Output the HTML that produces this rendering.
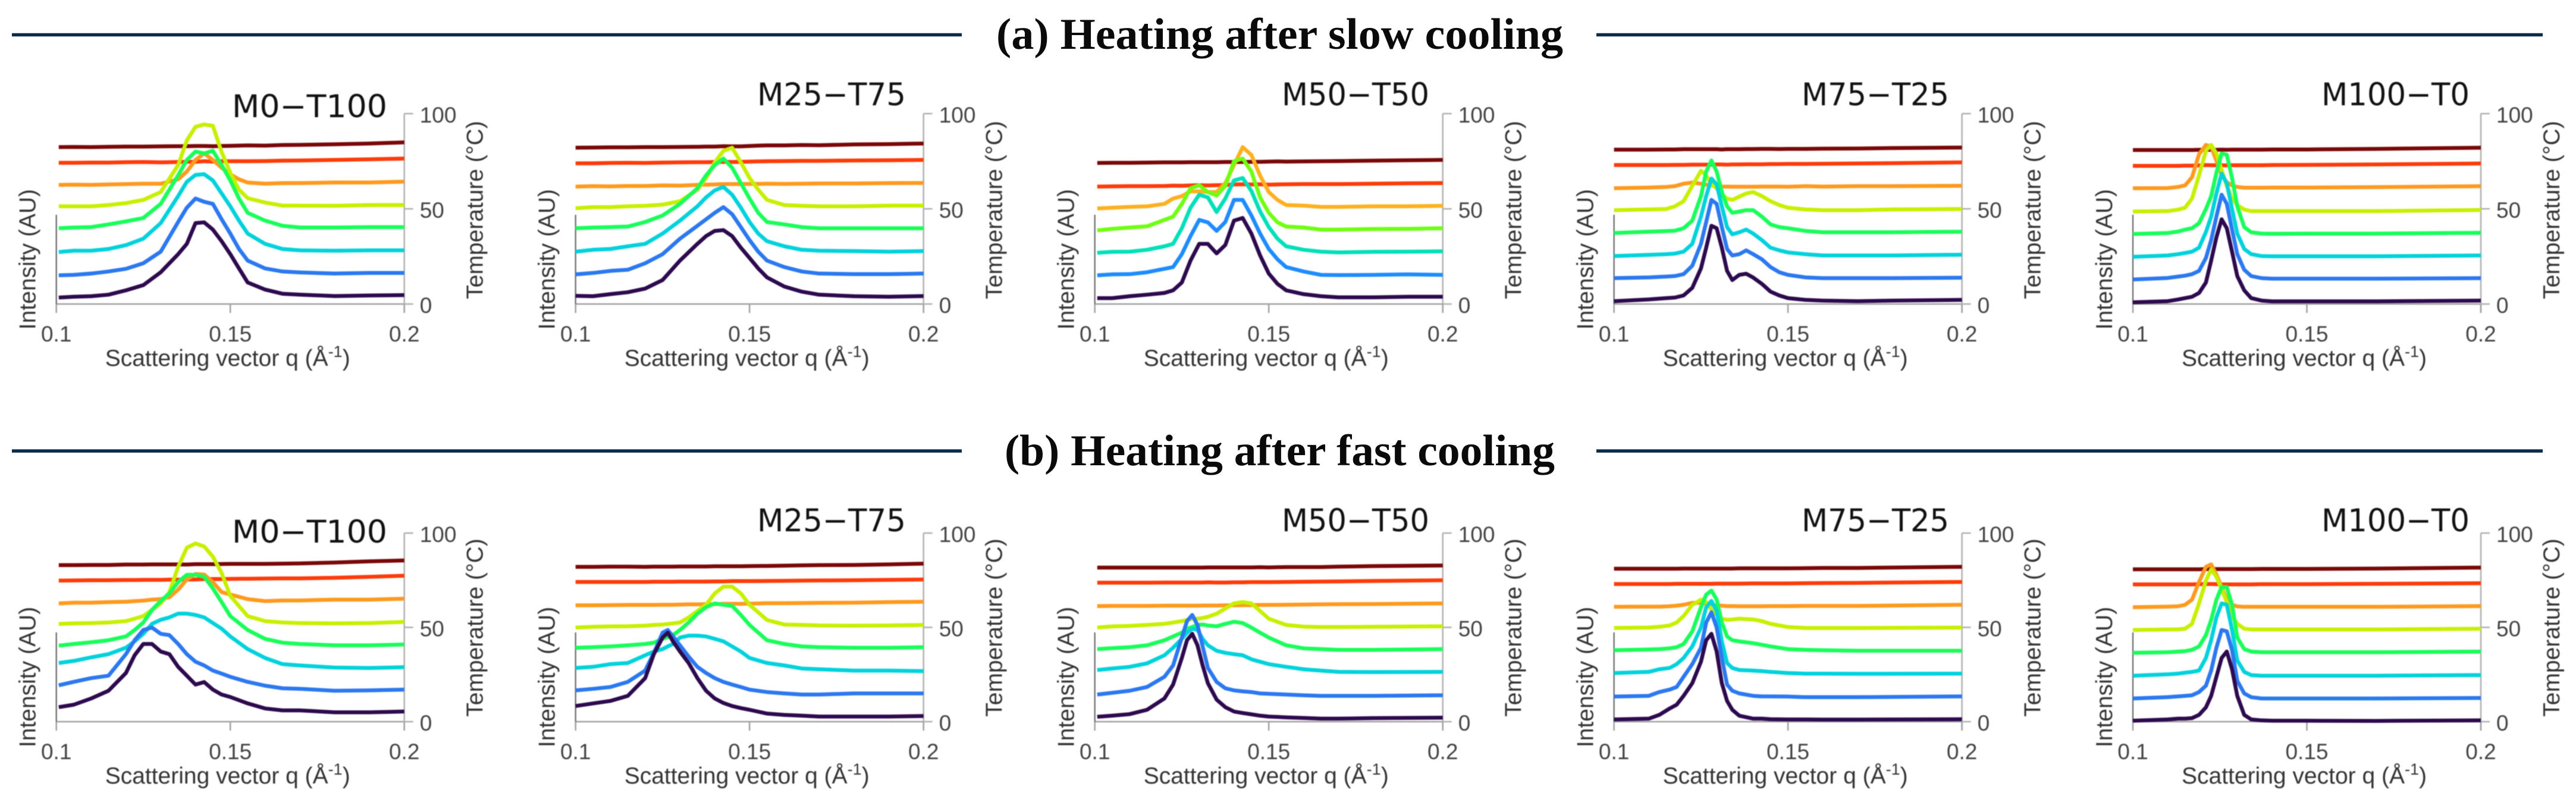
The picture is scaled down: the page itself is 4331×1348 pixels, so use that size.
<!DOCTYPE html>
<html lang="en">
<head>
<meta charset="utf-8">
<title>Heating after slow and fast cooling</title>
<style>
html,body{margin:0;padding:0;background:#fff;width:4331px;height:1348px;overflow:hidden}
svg{display:block}
.tick{font-family:"Liberation Sans",sans-serif;font-size:37px;fill:#424242}
.axt{font-family:"Liberation Sans",sans-serif;font-size:39px;fill:#333}
.ttl{font-family:"DejaVu Sans",sans-serif;font-size:53px;fill:#111}
.hdr{font-family:"Liberation Serif",serif;font-weight:bold;font-size:74px;fill:#0a0a0a}
</style>
</head>
<body>
<svg id="figure" xmlns="http://www.w3.org/2000/svg" width="4331" height="1348" viewBox="0 0 4331 1348">
<rect x="0" y="0" width="4331" height="1348" fill="#fff"/>
<g id="headers">
<line x1="20" x2="1617" y1="58.5" y2="58.5" stroke="#0c2b4a" stroke-width="5.5"/>
<text class="hdr" x="1675" y="82" textLength="953" lengthAdjust="spacingAndGlyphs">(a) Heating after slow cooling</text>
<line x1="2684" x2="4275" y1="58.5" y2="58.5" stroke="#0c2b4a" stroke-width="5.5"/>
<line x1="20" x2="1617" y1="758" y2="758" stroke="#0c2b4a" stroke-width="5.5"/>
<text class="hdr" x="1689" y="782" textLength="925" lengthAdjust="spacingAndGlyphs">(b) Heating after fast cooling</text>
<line x1="2684" x2="4275" y1="758" y2="758" stroke="#0c2b4a" stroke-width="5.5"/>
</g>
<g id="charts" style="filter:blur(0.9px)"></g>
</svg>
<script>
const xTicks=[0.1,0.15,0.2];
const xTickLabels=["0.1","0.15","0.2"];
const yTicks=[0,50,100];
const yTickLabels=["0","50","100"];

// (a) M0-T100
const a1_q=[.1007,.105,.11,.115,.12,.125,.13,.135,.1375,.14,.1425,.145,.1475,.15,.1525,.155,.16,.165,.17,.18,.19,.2];
const a1_s1=[3.4,3.8,4.1,4.9,7.2,9.9,16.7,26.2,31.6,42.5,42.9,39.1,33,26.2,18.7,11.3,7.6,5.4,4.9,4.2,4.5,4.7];
const a1_s2=[15.1,15.3,16,17.1,18.5,21.4,27.5,43.1,50.6,55.4,53.7,52.6,44.5,37,28.9,22.8,18.7,17.1,16.6,16,16.3,16.3];
const a1_s3=[27.3,28,28,28.9,30.9,34.3,42.5,56.7,64.2,67.8,68.2,64.9,58.1,51.3,43.8,37,31.6,28.9,28.2,28,28.2,28.2];
const a1_s4=[39.8,40.2,40.4,41.8,43.4,45.2,52.6,67.6,75.7,80.1,79.1,80.5,73,64.9,55.4,47.9,43.8,41.1,40.2,40.2,40.4,40.4];
const a1_s5=[51.3,51.3,51.3,52,53,54.7,58.8,73,85.9,93.1,94.3,93.6,79.8,68.9,60.1,55.6,53.3,51.7,51.7,51.6,52,52];
const a1_s6=[62.6,62.7,62.6,62.8,63,63.2,63.2,65.5,69.6,75.7,79.1,75.7,71.6,68.2,65.5,63.8,63.2,63.5,63.5,63.8,63.8,64.3];
const a1_s7=[74.2,74.2,74.3,74.3,74.5,74.6,74.4,74.6,74.7,74.7,75,74.8,75,75,75,75,75.1,75.3,75.4,75.7,76,76.4];
const a1_s8=[82.4,82.5,82.4,82.6,82.7,82.7,82.8,82.9,82.9,83,83,82.9,83,83.1,83.2,83.3,83.2,83.5,83.6,83.9,84.3,84.9];

// (a) M25-T75
const a2_q=[.1,.105,.11,.115,.12,.125,.13,.135,.1375,.14,.1425,.145,.1475,.15,.1525,.155,.16,.165,.17,.18,.19,.2];
const a2_s1=[4.3,4.1,5.2,6.2,8.1,12.6,22.8,31.6,35.7,38.4,38.8,35.7,29.6,24.2,18.7,14,9.2,6.5,4.9,4.1,3.8,4.2];
const a2_s2=[15.6,16.3,17.4,18,21.4,26.2,34.3,41.1,44.5,47.9,50.9,47.2,40.4,33.6,27.5,22.8,19.4,17.1,16,15.7,15.7,16];
const a2_s3=[27.5,28.5,28.9,30.3,31.6,37,43.8,51.3,56,59.7,61.5,57.4,50.6,43.1,37,33,30.3,28.5,28,27.8,27.5,27.8];
const a2_s4=[39.8,40.2,40.4,40.7,43.1,46.5,52.6,60.8,67.6,73,76.4,71.6,63.5,55.4,47.9,43.1,41.8,40.4,39.8,39.8,39.8,39.8];
const a2_s5=[50.3,50.9,50.9,51.3,51.6,52.2,54,60.1,66.2,74.4,80.5,82.1,74.4,66.2,60.1,54.7,52,51.6,51.3,51.3,51.7,51.7];
const a2_s6=[61.7,61.9,61.8,62,62,62.3,62.2,62.6,62.7,62.8,63,63,63,63.1,63.1,63.2,63.1,63.2,63.3,63.3,63.5,63.6];
const a2_s7=[73.9,73.9,74.1,74.2,74.1,74.3,74.4,74.5,74.5,74.6,74.7,74.6,74.7,74.8,74.9,75,75.1,75.2,75.2,75.4,75.5,75.7];
const a2_s8=[82.1,82.2,82.3,82.3,82.4,82.4,82.5,82.6,82.7,82.7,82.9,82.8,82.8,83,83.2,83.3,83.3,83.5,83.4,83.8,84,84.3];

// (a) M50-T50
const a3_q=[.1007,.105,.11,.115,.12,.1225,.125,.1275,.13,.1325,.135,.1375,.14,.1425,.145,.1475,.15,.1525,.155,.16,.165,.17,.18,.19,.2];
const a3_s1=[3.1,3.1,4.1,4.9,5.8,7.2,11.3,22.8,31.6,31.6,26.6,31,43.8,45.2,37,25.5,16,10.6,7.2,5.2,4.1,3.5,3.5,3.8,3.8];
const a3_s2=[15.1,15.6,15.7,16.7,18.5,19.4,26.2,35.7,44.2,42.9,38.4,43.1,54.7,54.7,46.5,37,28.9,23.5,19.4,17.1,15.3,15.2,15.3,15.6,15.3];
const a3_s3=[26.9,27.4,27.5,28.5,30.3,31.6,39.8,50.6,57.4,56,48.3,55.4,64.9,66.2,59.4,48.6,40.4,34.3,30.3,28.5,27.5,27.1,27.4,27.5,27.7];
const a3_s4=[38.7,39.5,40.2,40.8,44.2,45.9,52.6,60.8,62.4,58.8,57,62.1,75,76.4,69.6,56,47.9,42.9,40.7,40.2,39.1,39.1,39.4,39.5,39.8];
const a3_s5=[50.2,50.6,51,51.3,52.6,55.4,56.7,59.2,59.2,58.8,58.8,63.5,73,82.4,78.3,67.4,58.8,54.7,52,51.7,51,51,51.3,51.3,51.6];
const a3_s6=[61.7,61.8,61.9,61.9,62,62.2,62.1,62.3,62.4,62.3,62.4,62.5,62.8,62.9,62.8,62.9,62.7,62.8,62.9,63,63,63,63.2,63.4,63.5];
const a3_s7=[74.1,74.2,74.2,74.3,74.4,74.4,74.4,74.5,74.5,74.5,74.5,74.6,74.6,74.6,74.7,74.7,74.8,74.9,74.8,74.9,75,75.1,75.3,75.5,75.7];

// (a) M75-T25
const a4_q=[.1,.11,.115,.1175,.12,.1225,.125,.1265,.128,.1295,.131,.1325,.134,.136,.138,.14,.1425,.145,.1475,.15,.155,.16,.17,.18,.2];
const a4_s1=[1.5,2.4,3.1,3.4,4.5,8.5,18.7,29.6,41.1,39.8,29.6,17.4,12.6,15.3,15.9,13.9,10.6,6.5,4.5,3.1,2.2,1.8,1.5,1.8,2.2];
const a4_s2=[13.6,14,14.4,14.7,15.7,20.1,31.6,43.1,54.7,52.6,40.4,28.9,25.5,26.2,28.2,26.2,23.5,19.4,16.7,15.3,14,13.6,13.6,13.6,13.8];
const a4_s3=[25.2,25.8,26.2,26.5,27.5,31.6,45.9,56.7,65.9,62.8,51.3,40.4,36.6,37.7,39.1,37,33.6,29.6,28.2,27.1,26.2,25.5,25.5,25.5,25.9];
const a4_s4=[37.3,38,38.3,38.5,39.8,43.8,56.7,69.6,75.4,69.6,58.8,51.3,47.9,48.6,49.3,49.3,45.9,41.8,40.4,39.8,38.4,37.7,37.7,37.7,38];
const a4_s5=[49.3,49.7,49.9,51.3,54,62.1,70,67.6,62.8,60.8,57.4,55.4,54.7,56.4,58.1,58.8,56.7,54,52,50.6,49.7,49.3,49.3,49.7,49.9];
const a4_s6=[60.8,61.2,61.5,61.9,63.2,63.8,63.2,62.7,62.4,61.9,61.7,61.7,61.6,61.6,61.6,61.6,61.7,61.7,61.7,61.6,61.9,61.7,61.9,61.9,62.1];
const a4_s7=[73,73,73,73.1,73.1,73.2,73.2,73.2,73.2,73.3,73.3,73.2,73.3,73.3,73.4,73.4,73.4,73.5,73.5,73.6,73.6,73.7,73.8,74,74.4];
const a4_s8=[81.1,81.1,81.2,81.2,81.3,81.3,81.3,81.3,81.3,81.3,81.2,81.3,81.3,81.3,81.4,81.4,81.5,81.5,81.4,81.5,81.5,81.6,81.7,81.9,82.2];

// (a) M100-T0
const a5_q=[.1,.11,.113,.115,.117,.119,.121,.1225,.124,.1255,.127,.1285,.13,.132,.134,.137,.14,.15,.17,.2];
const a5_s1=[.9,1.5,2.4,3.1,3.8,5.8,11.3,22.8,35,44.5,39.8,27.5,14.7,7.2,3.1,1.8,1.4,1.4,1.4,1.8];
const a5_s2=[12.9,13.7,14.4,14.9,15.7,17.4,24.2,33.6,45.9,57.4,52.6,39.1,26.2,18,14.7,13.6,13.3,13.3,13.3,13.6];
const a5_s3=[24.8,25.5,26.2,26.8,27.5,29.6,37.8,45.9,58.1,68.5,63.3,49.9,37,28.9,26.2,25.2,25.1,25.1,25.1,25.5];
const a5_s4=[36.8,37.3,38.1,39.1,39.8,42.5,49.9,56.7,68.9,79.1,78.4,66.2,51.3,40.4,37.7,37,36.9,37,37,37.4];
const a5_s5=[48.6,48.8,49.6,50.6,55.4,67.6,80.5,83.6,79.1,70.3,62.1,55.4,52,49.6,48.8,48.8,48.8,48.8,48.8,49.4];
const a5_s6=[60.8,60.9,61.5,62.3,66.6,78.7,83.6,82.6,75.3,67.9,63.9,62.3,61.5,61.1,61.1,61.1,61.2,61.2,61.4,61.9];
const a5_s7=[72.6,72.6,72.6,72.7,72.7,72.8,73,72.9,72.9,72.9,72.8,72.9,72.9,72.9,72.9,72.9,73,73.1,73.3,73.8];
const a5_s8=[80.9,80.9,80.9,80.9,80.9,81,81,81,81,81.1,81,81.1,81.1,81.1,81.1,81.1,81.2,81.2,81.5,82.1];

// (b) M0-T100
const b1_q=[.1007,.105,.11,.115,.12,.1225,.125,.1275,.13,.1325,.135,.1375,.14,.1425,.145,.1475,.15,.155,.16,.165,.17,.18,.19,.2];
const b1_s1=[7.7,9,12.3,16.4,25.8,35.2,41.2,41.2,37.2,35.8,29.1,24.4,19.7,21,17,14.4,13.1,9.7,7,6,6,5,5,5.4];
const b1_s2=[19.3,21.1,23.1,24.4,35.8,43.2,48.6,49.9,46.6,45.9,41.2,35.8,31.8,29.8,27.1,25.5,23.8,21.1,19.1,17.7,17.4,16.4,16.6,17];
const b1_s3=[31.1,32.2,34.1,35.8,39.2,42.6,46.6,51.9,54,55.3,57.3,57.3,56.6,55.3,52.3,49.3,45.2,38.5,33.8,30.5,29.8,28.7,28.5,28.9];
const b1_s4=[40.3,41.2,42.1,43.2,45.2,48.6,52.6,59.3,64,68,74.1,77.9,77.9,76.8,70.7,63.4,56,48.6,43.9,41.9,41.2,40.5,40.5,40.9];
const b1_s5=[51.8,52.1,52.3,52.6,53.3,54.6,56,59.3,62.7,68.7,82.1,92.2,94.5,92.9,87.5,78.8,66.7,56,53.3,52.6,52.3,52.1,52.3,52.9];
const b1_s6=[62.7,63.1,63.1,63.4,63.6,63.9,64.2,64.7,65,66,70,75.4,78.3,78,74,68.7,67.4,65,63.9,64.3,64.3,64.7,64.7,65.2];
const b1_s7=[74.8,74.9,75,75,75.1,75.1,75.2,75.2,75.2,75.3,75.3,75.4,75.4,75.6,75.6,75.6,75.7,75.8,75.9,76,76,76.3,76.8,77.4];
const b1_s8=[83,83,83.1,83.1,83.3,83.3,83.3,83.4,83.4,83.4,83.4,83.3,83.5,83.5,83.5,83.6,83.7,83.7,83.7,83.8,83.9,84.4,85,85.5];

// (b) M25-T75
const b2_q=[.1,.105,.11,.115,.12,.1225,.125,.1265,.128,.13,.1325,.135,.1375,.14,.1425,.145,.1475,.15,.155,.16,.165,.17,.18,.19,.2];
const b2_s1=[8.3,9.7,11,13.7,23.1,35.8,44.6,47.2,42.6,37.2,31.1,23.1,16.4,12.3,9.9,8.3,7.2,6.3,4.3,3.6,3.2,2.7,2.7,2.7,3];
const b2_s2=[16.6,17.4,18.4,21.1,27.1,36.5,47.2,48.6,45.2,40.5,34.5,29.1,25.8,23.1,21.1,19.7,18.4,17,15.7,15,14.4,14.4,15,15,15];
const b2_s3=[28.5,29.1,30.5,31.1,35.2,37.2,38.5,39.9,41.2,44.6,45.6,45.6,45.2,43.9,42.6,39.9,37.2,33.8,31.1,29.8,28.2,27.8,27.1,27.1,26.8];
const b2_s4=[39.2,39.5,39.9,40.5,41.2,41.9,43.9,44.8,45.9,48.6,52.6,57.3,60.7,62.7,62,61.4,56.6,51.3,43.2,41.2,39.9,39.5,39.2,39.2,39.5];
const b2_s5=[49.9,50.3,50.5,50.6,50.9,51.3,51.5,51.8,52.1,52.6,55.3,58.7,62,68,71.6,71.6,68,62,53.9,51.5,51.3,51,50.9,51,51.3];
const b2_s6=[61.7,61.7,61.8,61.9,61.9,61.9,62,62,62,62.1,62.2,62.2,62.3,62.3,62.5,62.5,62.5,62.6,62.8,62.8,62.9,63,63.1,63.4,63.6];
const b2_s7=[74.1,74.1,74.1,74.1,74.1,74.2,74.2,74.2,74.2,74.3,74.3,74.3,74.3,74.4,74.4,74.5,74.5,74.5,74.6,74.7,74.8,74.9,75,75.2,75.4];
const b2_s8=[82.1,82.1,82.2,82.2,82.1,82.2,82.2,82.2,82.2,82.3,82.3,82.3,82.3,82.4,82.4,82.4,82.4,82.5,82.6,82.7,82.9,83,83.1,83.4,83.8];

// (b) M50-T50
const b3_q=[.1007,.105,.11,.115,.12,.1225,.125,.1265,.128,.1295,.131,.1325,.135,.1375,.14,.1425,.145,.1475,.15,.155,.16,.165,.17,.18,.2];
const b3_s1=[2.6,3.2,4,6.3,12.3,19.7,33.8,43.2,46.6,40.5,29.8,20.4,11.7,7.7,5.4,4.6,3.9,3.2,2.7,2.3,2,1.6,1.6,1.9,2.1];
const b3_s2=[14.4,15.3,16.4,18.4,23.8,29.8,44.6,53.3,56.6,51.3,39.9,28.5,21.1,17.7,16.6,16.1,15.7,15,14.8,14.4,14,13.7,13.7,13.7,14];
const b3_s3=[27.4,28.2,29.1,30.9,35.2,39.2,43.9,47.2,49.3,48.6,43.9,40.5,37.6,36.5,35.8,35.2,33.1,31.8,30.5,29.1,27.8,27.1,26.4,26.3,26.4];
const b3_s4=[38.5,39,39.5,40.5,43.2,45.2,47.2,49.3,50.2,51.3,51.5,51,50.6,51.9,53,52.3,49.9,47.2,44.6,40.5,38.9,38.5,38.1,38.1,38.5];
const b3_s5=[49.9,50.5,50.8,51.3,51.9,52.6,53.3,54,54.6,54.6,55,55.6,57.3,60,62.7,63.4,62.7,58.7,54.6,51.3,50.4,50.2,50.2,50.3,50.6];
const b3_s6=[61.3,61.4,61.4,61.4,61.5,61.5,61.5,61.5,61.5,61.5,61.6,61.6,61.6,61.7,61.7,61.8,61.8,61.9,61.9,62,62.1,62.2,62.3,62.4,62.7];
const b3_s7=[73.7,73.7,73.7,73.7,73.8,73.8,73.8,73.8,73.8,73.8,73.8,73.9,73.8,73.8,73.9,73.9,74,74,74,74.1,74.2,74.3,74.4,74.6,75];
const b3_s8=[81.7,81.7,81.7,81.7,81.7,81.7,81.7,81.7,81.7,81.7,81.7,81.8,81.8,81.8,81.8,81.8,81.8,81.9,81.8,82,82,82,82.2,82.5,82.8];

// (b) M75-T25
const b4_q=[.1,.11,.113,.116,.118,.12,.1225,.125,.1265,.128,.1295,.131,.1325,.134,.136,.14,.1425,.145,.15,.155,.16,.17,.2];
const b4_s1=[1.2,1.6,3.6,7,9,13.7,20.4,31.8,43.2,46.6,37.2,20.4,11,6.3,3.2,1.6,1.6,1.3,1.2,1.2,1.1,1.1,1.3];
const b4_s2=[13.3,13.7,15.7,17,18.4,23.8,30.5,39.2,52.6,58,49.9,33.8,19.7,16.4,15,13.7,13.4,13.4,13.3,13,13,13,13.4];
const b4_s3=[25.8,26.4,27.8,28.5,30.5,33.8,39.9,49.9,60.7,64,58.7,42.6,31.1,28.5,27.4,27.1,26.8,26.4,25.8,25.5,25.5,25.4,25.5];
const b4_s4=[37.9,38.3,38.5,38.9,39.5,41.2,47.9,60.7,67.4,69.5,64.8,52.6,45.2,43.2,42.6,41.6,40.8,39.9,38.5,38.1,37.9,37.6,37.6];
const b4_s5=[49.7,49.9,50.3,51,52.6,56,62,64.7,63.4,59.3,56.6,54.6,54,54.2,54.6,54.2,53.3,51.9,50.2,49.7,49.7,49.7,49.9];
const b4_s6=[60.9,61,61,61.2,61.5,62,63,63,62.5,62,61.7,61.5,61.3,61.3,61.2,61.2,61.2,61.3,61.3,61.4,61.4,61.4,62];
const b4_s7=[73,73,73,73,73.1,73.1,73.1,73.1,73.1,73.1,73.2,73.2,73.2,73.2,73.2,73.3,73.3,73.3,73.3,73.4,73.5,73.6,74.1];
const b4_s8=[81.1,81.1,81.1,81.1,81.1,81.2,81.2,81.2,81.2,81.2,81.2,81.2,81.2,81.2,81.3,81.3,81.3,81.3,81.3,81.4,81.5,81.5,82.1];

// (b) M100-T0
const b5_q=[.1,.11,.113,.115,.117,.119,.121,.1225,.124,.1255,.127,.1285,.13,.132,.134,.137,.14,.15,.17,.2];
const b5_s1=[.5,1.2,1.6,1.6,1.9,3.6,7.6,13.7,23.8,33.8,37.2,27.8,13.7,3.6,1.2,.7,.5,.5,.4,.7];
const b5_s2=[12.3,13,13.4,13.7,14,15.7,19.1,27.1,39.2,48.6,47.9,37.9,21.7,15,13,12.3,12.3,12.3,12.3,12.6];
const b5_s3=[24.4,25.1,25.5,26,26.4,27.1,33.8,43.2,55.3,62.7,62,48.6,32.5,26.4,24.7,24.4,24.4,24.4,24.4,24.7];
const b5_s4=[36.5,36.8,37.2,37.4,38.1,39.9,45.9,54,64.7,71.4,71.4,62,44.6,38.5,37.2,36.8,36.8,36.8,36.8,37.2];
const b5_s5=[48.6,48.9,49,49.3,51.9,62.7,74.8,80.8,76.8,70.1,63.4,56,51.9,49.3,48.9,48.9,48.9,48.9,48.9,49.3];
const b5_s6=[60.7,61,61.2,62,64.7,74.1,82.1,83.4,78,71.4,64.7,62,61.1,60.9,60.9,60.9,60.9,60.9,60.9,61.3];
const b5_s7=[72.8,72.8,72.8,72.8,72.8,72.9,73,73,72.9,72.8,72.8,72.8,72.8,72.8,72.8,72.9,72.9,72.9,73.1,73.4];
const b5_s8=[80.8,80.8,80.8,80.8,80.8,80.8,80.9,80.9,80.9,80.9,80.9,80.9,80.9,80.9,80.9,81,81,81,81.2,81.7];

const palette8=["#2d0a4e","#2b78f0","#00d2dc","#19ff5a","#c6f000","#ff9a1f","#ff3b0a","#7a0808"];
const palette7=["#2d0a4e","#1e8cff","#00e0b8","#6fff10","#ffb020","#ff3b0a","#7a0808"];

const SVGNS="http://www.w3.org/2000/svg";
const root=document.getElementById("charts");

function mk(tag,parent,attrs){
  const el=document.createElementNS(SVGNS,tag);
  for(const k in attrs){el.setAttribute(k,attrs[k]);}
  parent.appendChild(el);
  return el;
}

function drawPanel(p){
  const xScale=q=>p.x0+(q-0.1)/(0.2-0.1)*585;
  const yScale=v=>p.y0-v/100*p.h;
  const x1=xScale(0.2);
  const g=mk("g",root,{});
  
  

  const bl=mk("line",g,{x1:p.x0,x2:x1,y1:p.y0,y2:p.y0,stroke:"#a0a0a0","stroke-width":2.5});
  
  
  const la=mk("line",g,{x1:p.x0,x2:p.x0,y1:p.y0,y2:p.y0-150,stroke:"#666","stroke-width":2.2});
  
  
  const ra=mk("line",g,{x1:x1,x2:x1,y1:p.y0+15,y2:yScale(100),stroke:"#b0b0b0","stroke-width":2.5});
  
  

  xTicks.forEach((t,i)=>{
    const m=mk("line",g,{x1:xScale(t),x2:xScale(t),y1:p.y0,y2:p.y0+15,stroke:"#a0a0a0","stroke-width":2.5});
    
    
    const l=mk("text",g,{class:"tick",x:xScale(t),y:p.y0+63,"text-anchor":"middle"});
    
    
    l.textContent=xTickLabels[i];
  });
  yTicks.forEach((t,i)=>{
    const m=mk("line",g,{x1:x1,x2:x1+15,y1:yScale(t),y2:yScale(t),stroke:"#b0b0b0","stroke-width":2.5});
    
    
    const l=mk("text",g,{class:"tick",x:x1+26,y:yScale(t)+15});
    
    
    l.textContent=yTickLabels[i];
  });

  for(let i=p.series.length-1;i>=0;i--){
    const s=p.series[i];
    let d="";
    for(let k=0;k<p.q.length&&k<s.length;k++){
      d+=(k?"L":"M")+xScale(p.q[k]).toFixed(1)+" "+yScale(s[k]).toFixed(1);
    }
    const path=mk("path",g,{d:d,fill:"none",stroke:p.colors[i],"stroke-width":6.5,"stroke-linejoin":"round","stroke-linecap":"butt"});
    
    
  }

  const t=mk("text",g,{class:"ttl",x:p.tx,y:p.ty,textLength:p.tw,lengthAdjust:"spacingAndGlyphs"});
  
  
  t.textContent=p.title;

  const xl=mk("text",g,{class:"axt",x:p.x0+82,y:p.y0+104});
  
  
  xl.appendChild(document.createTextNode("Scattering vector q (Å"));
  const sup=mk("tspan",xl,{dy:-15,"font-size":27});
  
  
  sup.textContent="-1";
  const cl=mk("tspan",xl,{dy:15});
  
  
  cl.textContent=")";

  const yl=mk("text",g,{class:"axt",x:0,y:0,"text-anchor":"middle",transform:"translate("+(p.x0-35)+" "+(p.y0-75)+") rotate(-90)"});
  
  
  yl.textContent="Intensity (AU)";

  const rl=mk("text",g,{class:"axt",x:0,y:0,"text-anchor":"middle",transform:"translate("+(x1+132)+" "+(p.y0-158)+") rotate(-90)"});
  
  
  rl.textContent="Temperature (°C)";
}

const rowA={y0:511,h:320};
const rowB={y0:1213,h:317};
const panels=[
 {id:"a-m0-t100",title:"M0−T100",x0:94.7,tx:390,tw:261,ty:197,...rowA,q:a1_q,colors:palette8,series:[a1_s1,a1_s2,a1_s3,a1_s4,a1_s5,a1_s6,a1_s7,a1_s8]},
 {id:"a-m25-t75",title:"M25−T75",x0:967.7,tx:1273,tw:250,ty:177,...rowA,q:a2_q,colors:palette8,series:[a2_s1,a2_s2,a2_s3,a2_s4,a2_s5,a2_s6,a2_s7,a2_s8]},
 {id:"a-m50-t50",title:"M50−T50",x0:1840.7,tx:2155,tw:248,ty:177,...rowA,q:a3_q,colors:palette7,series:[a3_s1,a3_s2,a3_s3,a3_s4,a3_s5,a3_s6,a3_s7]},
 {id:"a-m75-t25",title:"M75−T25",x0:2713.6,tx:3029,tw:248,ty:177,...rowA,q:a4_q,colors:palette8,series:[a4_s1,a4_s2,a4_s3,a4_s4,a4_s5,a4_s6,a4_s7,a4_s8]},
 {id:"a-m100-t0",title:"M100−T0",x0:3586,tx:3903,tw:249,ty:177,...rowA,q:a5_q,colors:palette8,series:[a5_s1,a5_s2,a5_s3,a5_s4,a5_s5,a5_s6,a5_s7,a5_s8]},
 {id:"b-m0-t100",title:"M0−T100",x0:94.7,tx:390,tw:261,ty:912,...rowB,q:b1_q,colors:palette8,series:[b1_s1,b1_s2,b1_s3,b1_s4,b1_s5,b1_s6,b1_s7,b1_s8]},
 {id:"b-m25-t75",title:"M25−T75",x0:967.7,tx:1273,tw:250,ty:893,...rowB,q:b2_q,colors:palette8,series:[b2_s1,b2_s2,b2_s3,b2_s4,b2_s5,b2_s6,b2_s7,b2_s8]},
 {id:"b-m50-t50",title:"M50−T50",x0:1840.7,tx:2155,tw:248,ty:893,...rowB,q:b3_q,colors:palette8,series:[b3_s1,b3_s2,b3_s3,b3_s4,b3_s5,b3_s6,b3_s7,b3_s8]},
 {id:"b-m75-t25",title:"M75−T25",x0:2713.6,tx:3029,tw:248,ty:893,...rowB,q:b4_q,colors:palette8,series:[b4_s1,b4_s2,b4_s3,b4_s4,b4_s5,b4_s6,b4_s7,b4_s8]},
 {id:"b-m100-t0",title:"M100−T0",x0:3586,tx:3903,tw:249,ty:893,...rowB,q:b5_q,colors:palette8,series:[b5_s1,b5_s2,b5_s3,b5_s4,b5_s5,b5_s6,b5_s7,b5_s8]}
];
panels.forEach(drawPanel);
</script>
</body>
</html>
